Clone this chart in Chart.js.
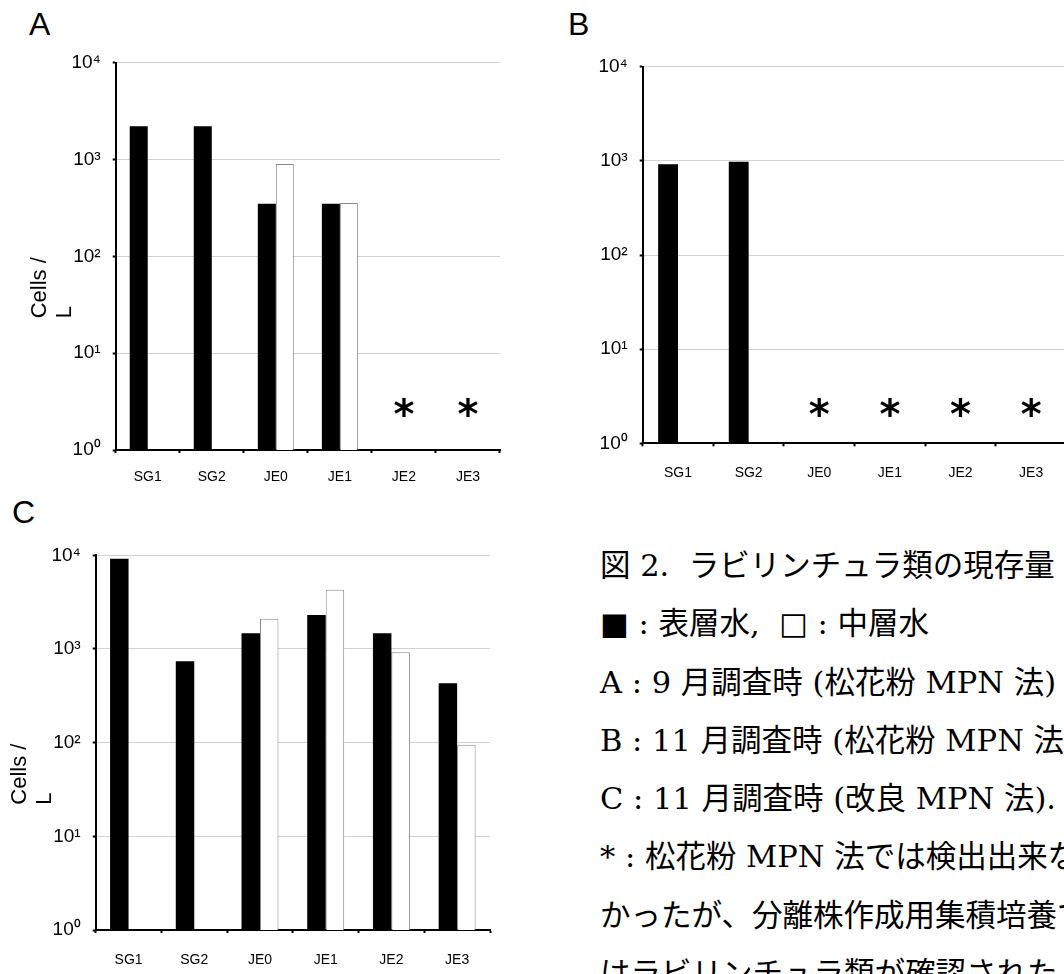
<!DOCTYPE html>
<html><head><meta charset="utf-8">
<script src="https://cdn.jsdelivr.net/npm/chart.js@4/dist/chart.umd.min.js"></script>
<style>
html,body{margin:0;padding:0;background:#fff;width:1064px;height:974px;overflow:hidden;position:relative;}
canvas{position:absolute;}
.letter{position:absolute;font-family:"Liberation Sans",Arial,sans-serif;font-size:32px;line-height:1;color:#000;}
#caption{position:absolute;left:600px;top:537px;font-family:"DejaVu Serif","Noto Sans CJK JP",serif;font-size:30.5px;line-height:58.3px;white-space:pre;color:#000;}
</style></head><body>
<div class="letter" style="left:29px;top:8px;">A</div>
<div class="letter" style="left:568px;top:8px;">B</div>
<div class="letter" style="left:12px;top:496px;">C</div>
<canvas id="chartA" width="512" height="495" style="left:0;top:0;"></canvas>
<canvas id="chartB" width="540" height="495" style="left:540px;top:0;"></canvas>
<canvas id="chartC" width="510" height="494" style="left:0;top:480px;"></canvas>
<div id="caption">図 2.  ラビリンチュラ類の現存量
■ : 表層水,  □ : 中層水
A : 9 月調査時 (松花粉 MPN 法)
B : 11 月調査時 (松花粉 MPN 法)
C : 11 月調査時 (改良 MPN 法).
* : 松花粉 MPN 法では検出出来な
かったが、分離株作成用集積培養で
はラビリンチュラ類が確認された.</div>
<script>
// ---- data ----
const categories = ['SG1', 'SG2', 'JE0', 'JE1', 'JE2', 'JE3'];
const yTicks = [1, 10, 100, 1000, 10000];
const supDigits = ['⁰', '¹', '²', '³', '⁴'];
const seriesNames = ['表層水', '中層水'];
// A: September (pine pollen MPN)
const surfaceA = [2200, 2200, 350, 350, null, null];
const middleA  = [null, null, 900, 355, null, null];
const notDetectedA = ['JE2', 'JE3'];
// B: November (pine pollen MPN)
const surfaceB = [920, 980, null, null, null, null];
const middleB  = [null, null, null, null, null, null];
const notDetectedB = ['JE0', 'JE1', 'JE2', 'JE3'];
// C: November (improved MPN)
const surfaceC = [9200, 740, 1470, 2300, 1470, 430];
const middleC  = [null, null, 2100, 4300, 920, 95];
const yTitleLines = ['Cells /', 'L'];

// ---- plugins ----
const markPlugin = {
  id: 'notDetected',
  afterDatasetsDraw(chart, args, opts) {
    if (!opts.categories || !opts.categories.length) return;
    const ctx = chart.ctx, xs = chart.scales.x, ys = chart.scales.y;
    ctx.save();
    ctx.font = opts.font;
    ctx.fillStyle = '#000';
    ctx.textAlign = 'center';
    ctx.textBaseline = 'alphabetic';
    const m = ctx.measureText(opts.text);
    const yc = ys.getPixelForValue(opts.level);
    const base = yc + (m.actualBoundingBoxAscent - m.actualBoundingBoxDescent) / 2;
    opts.categories.forEach(c => {
      ctx.fillText(opts.text, xs.getPixelForValue(categories.indexOf(c)), base);
    });
    ctx.restore();
  }
};
const yTitlePlugin = {
  id: 'yTitleLines',
  afterDraw(chart, args, opts) {
    if (!opts.lines) return;
    const ctx = chart.ctx, a = chart.chartArea;
    ctx.save();
    ctx.font = opts.font;
    ctx.fillStyle = '#000';
    ctx.textAlign = 'left';
    ctx.textBaseline = 'middle';
    const startY = (a.top + a.bottom) / 2 + opts.startOffset;
    opts.lines.forEach((t, i) => {
      ctx.save();
      ctx.translate(a.left - opts.firstOffset + i * opts.lineGap, startY);
      ctx.rotate(-Math.PI / 2);
      ctx.fillText(t, 0, 0);
      ctx.restore();
    });
    ctx.restore();
  }
};

function makeChart(id, surface, middle, cfg) {
  return new Chart(document.getElementById(id), {
    type: 'bar',
    data: {
      labels: categories,
      datasets: [
        { label: seriesNames[0], data: surface, backgroundColor: '#000', borderWidth: 0 },
        { label: seriesNames[1], data: middle, backgroundColor: '#fff', borderColor: '#8a8a8a', borderWidth: 1 }
      ]
    },
    options: {
      responsive: false, animation: false, devicePixelRatio: 1,
      layout: { padding: { left: 0, top: cfg.top, right: cfg.right, bottom: 0 } },
      datasets: { bar: { categoryPercentage: 0.5625, barPercentage: 1 } },
      plugins: {
        legend: { display: false },
        tooltip: { enabled: false },
        notDetected: { categories: cfg.marks, level: cfg.markLevel, text: '*', font: 'bold 40px "DejaVu Sans"' },
        yTitleLines: cfg.title ? { lines: yTitleLines, font: '22px "Liberation Sans"', startOffset: 62, firstOffset: 75.5, lineGap: 25 } : {}
      },
      scales: {
        x: {
          afterFit(s) { s.height = cfg.xh; },
          grid: { offset: true, drawOnChartArea: false, drawTicks: true, tickLength: 3, tickColor: '#000', tickWidth: 2 },
          border: { color: '#000', width: 2 },
          ticks: { color: '#000', font: { family: 'Liberation Sans', size: 14 }, padding: cfg.xpad, maxRotation: 0, autoSkip: false }
        },
        y: {
          type: 'logarithmic', min: 1, max: 10000,
          afterFit(s) { s.width = cfg.yw; },
          afterBuildTicks(s) { s.ticks = yTicks.map(v => ({ value: v })); },
          grid: { color: '#d2d2d2', lineWidth: 1, tickColor: '#000', tickLength: 3, tickWidth: 2 },
          border: { color: '#000', width: 2 },
          ticks: {
            color: '#000', font: { family: 'Liberation Sans', size: 19 }, padding: 12,
            callback: v => '10' + supDigits[Math.round(Math.log10(v))]
          }
        }
      }
    },
    plugins: [markPlugin, yTitlePlugin]
  });
}

makeChart('chartA', surfaceA, middleA, { top: 62.7, right: 12, xh: 45, yw: 115.7, xpad: 16, marks: notDetectedA, markLevel: 2.8, title: true });
makeChart('chartB', surfaceB, middleB, { top: 66.7, right: 13.5, xh: 51.7, yw: 102.7, xpad: 18, marks: notDetectedB, markLevel: 2.45, title: false });
makeChart('chartC', surfaceC, middleC, { top: 75.3, right: 20, xh: 44, yw: 95.7, xpad: 19, marks: [], markLevel: 1, title: true });
</script>
</body></html>
